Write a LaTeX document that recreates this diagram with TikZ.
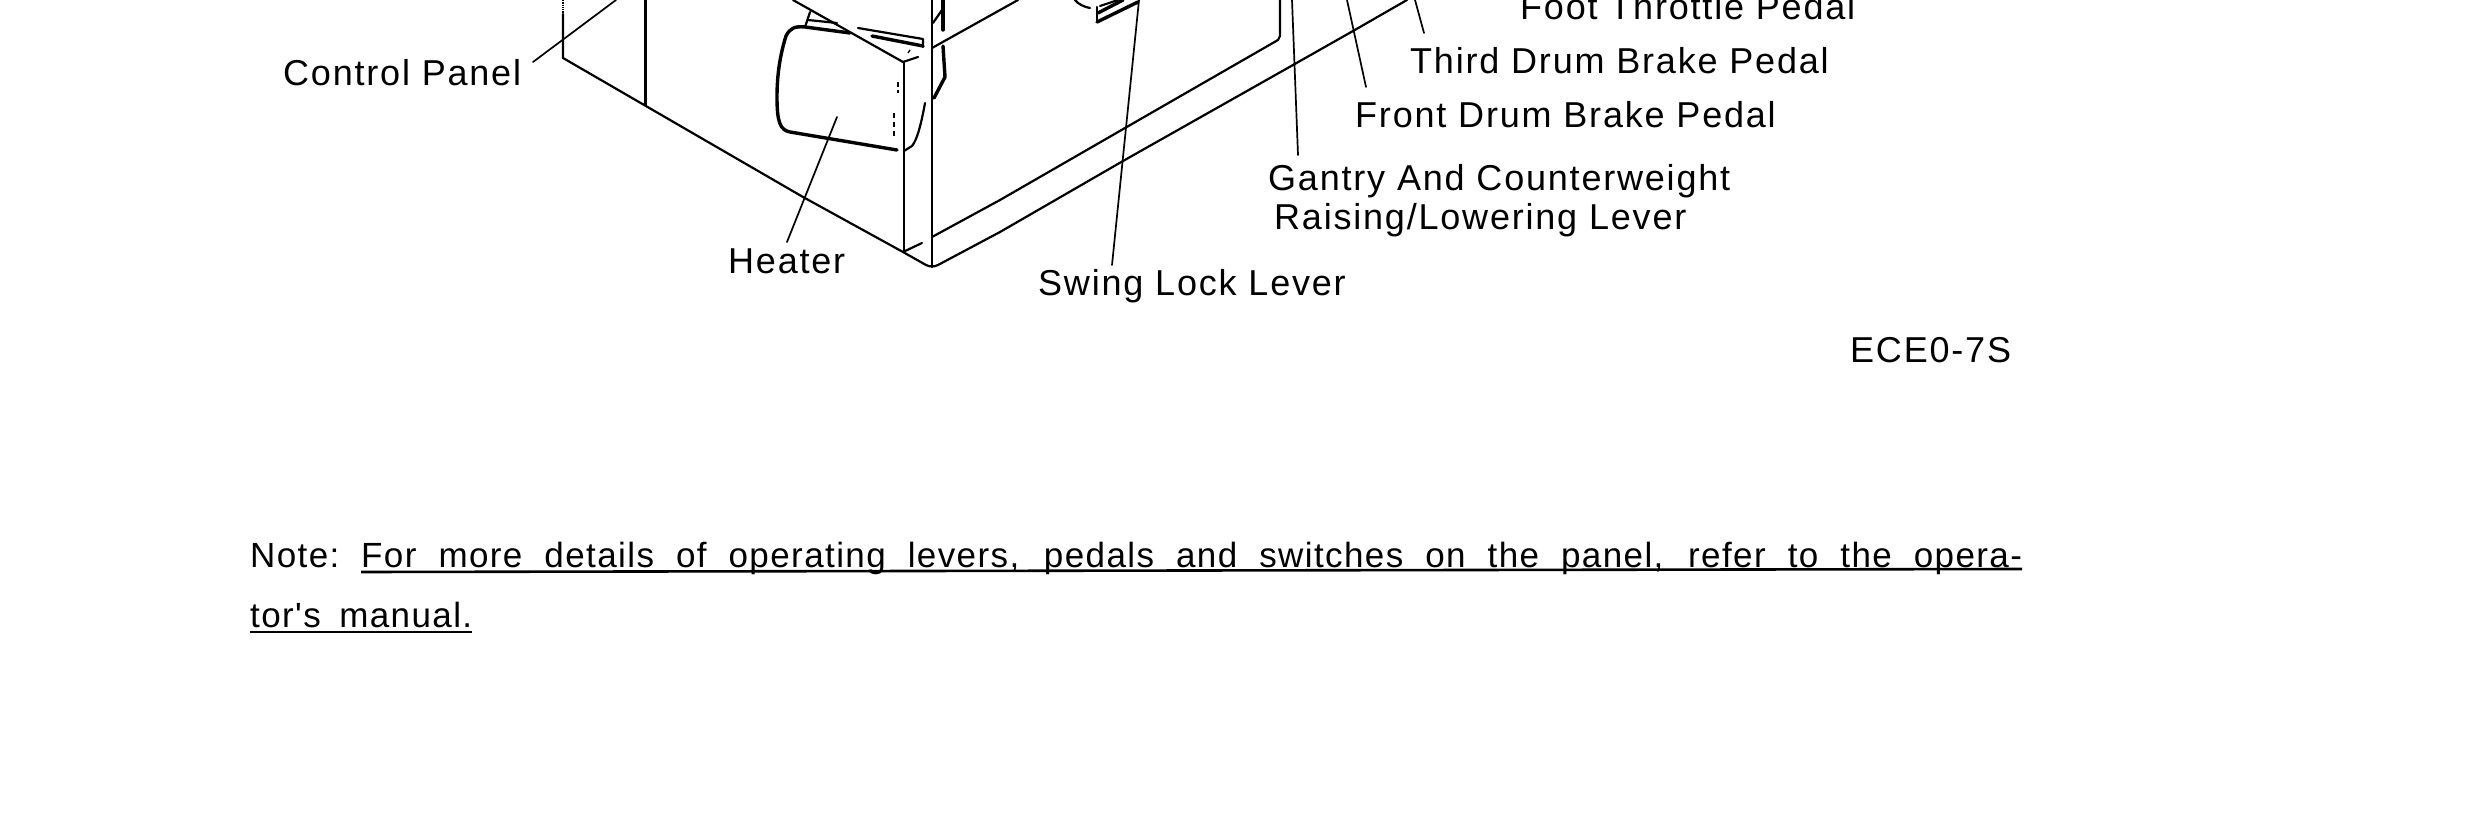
\documentclass[tikz,border=0pt]{standalone}
\usepackage{fontspec}
\setmainfont{Liberation Sans}
\newfontfamily\labfont[LetterSpace=5]{Liberation Sans}
\newfontfamily\notefont[LetterSpace=4]{Liberation Sans}
\tikzset{
 lab/.style={anchor=base west,inner sep=0pt,font=\labfont\fontsize{36}{36}\selectfont},
 note/.style={anchor=base west,inner sep=0pt,font=\notefont\fontsize{35}{35}\selectfont},
 body/.style={line width=2.2pt,line join=round,line cap=round},
 heavy/.style={line width=3.4pt,line join=round,line cap=round},
 fine/.style={line width=1.3pt,line cap=butt},
 leader/.style={line width=1.7pt,line cap=round},
 rule/.style={line width=2.6pt}
}
\begin{document}
\begin{tikzpicture}[x=1pt,y=-1pt]
\useasboundingbox (0,0) rectangle (2476,840);
\fill[white] (0,0) rectangle (2476,840);
% labels
\node[lab] (cp) at (283,86) {Control Panel};
\node[lab] (ft) at (1520,20) {Foot Throttle Pedal};
\node[lab] (td) at (1410,74) {Third Drum Brake Pedal};
\node[lab] (fd) at (1355,128) {Front Drum Brake Pedal};
\node[lab] (ga) at (1268,190) {Gantry And Counterweight};
\node[lab] (ra) at (1274,229) {Raising/Lowering Lever};
\node[lab] (he) at (728,273) {Heater};
\node[lab] (sw) at (1038,295) {Swing Lock Lever};
\node[lab] (ec) at (1850,362) {ECE0-7S};
\node[note] (n1) at (250,567) {Note:};
\node[note] (n2) at (361,567) {\makebox[1661pt][s]{For more details of operating levers, pedals and switches on the panel, refer to the opera-}};
\node[note] (n3) at (250,627) {\makebox[222pt][s]{tor's manual.}};
% underlines
\coordinate (u1a) at (361,572); \coordinate (u1b) at (2022,569);
\coordinate (u2a) at (250,632); \coordinate (u2b) at (472,632);
\draw[rule] (u1a) -- (u1b);
\draw[rule] (u2a) -- (u2b);
% cab outline
\draw[body] (563,14) -- (563,58) -- (803,197) -- (903,252) -- (926,265)
  .. controls (930,267) and (934,267) .. (938,265)
  -- (1000,232) -- (1123,161) -- (1293,65) -- (1353,31) -- (1407,0);
\draw[fine,densely dotted] (563,0) -- (563,26);
\draw[body] (645.5,0) -- (645.5,105);
\draw[body] (932,0) -- (932,267);
\draw[body] (932,237) -- (1000,200) -- (1125,128) -- (1278,40) -- (1280,36) -- (1280,0);
\draw[body] (904,63) -- (904,252);
\draw[body] (903,252) -- (922,243);
\draw[body] (793,0) -- (903,62) -- (918,57);
\draw[fine] (908,53) -- (910,50);
% heater
\draw[heavy] (850,33) -- (805,27) .. controls (795,26) and (790,28) .. (786,36)
  .. controls (780,55) and (777,75) .. (777,97)
  .. controls (777,122) and (780,130) .. (790,132) -- (897,150);
\draw[body] (805,27) -- (810,12);
\draw[body] (808,20) -- (837,23);
\draw[body] (858,28) -- (923,39) -- (923,47);
\draw[heavy] (872,36) -- (923,46);
\draw[body] (925,103) .. controls (921,125) and (917,140) .. (912,146) -- (904,151);
\draw[fine,dash pattern=on 5pt off 3pt] (898,82) -- (898,93);
\draw[fine,dash pattern=on 5pt off 4pt] (894,113) -- (894,137);
% side handle
\draw[heavy] (943,0) -- (943,30);
\draw[heavy] (943,46) -- (945,77) -- (934,98);
\draw[body] (942,10) -- (933,23);
% swirl near the swing lock lever
\draw[heavy] (1097,22) -- (1138,2);
\draw[body] (1097,7) -- (1097,22);
\draw[heavy] (1098,13) -- (1123,0);
\draw[body] (1100,6) -- (1118,0);
\draw[body] (1075,0) .. controls (1078,4) and (1084,7) .. (1090,8);
% leaders
\coordinate (l1a) at (533,62);  \coordinate (l1b) at (616,0);
\coordinate (l2a) at (837,117); \coordinate (l2b) at (787,242);
\coordinate (l3a) at (1139,0);  \coordinate (l3b) at (1112,265);
\coordinate (l4a) at (1292,0);  \coordinate (l4b) at (1298,155);
\coordinate (l5a) at (1347,0);  \coordinate (l5b) at (1366,87);
\coordinate (l6a) at (1415,0);  \coordinate (l6b) at (1424,33);
\coordinate (l7a) at (932,48);  \coordinate (l7b) at (1018,0);
\draw[leader] (l1a) -- (l1b);
\draw[leader] (l2a) -- (l2b);
\draw[leader] (l3a) -- (l3b);
\draw[leader] (l4a) -- (l4b);
\draw[leader] (l5a) -- (l5b);
\draw[leader] (l6a) -- (l6b);
\draw[body] (l7a) -- (l7b);
\end{tikzpicture}
\end{document}
